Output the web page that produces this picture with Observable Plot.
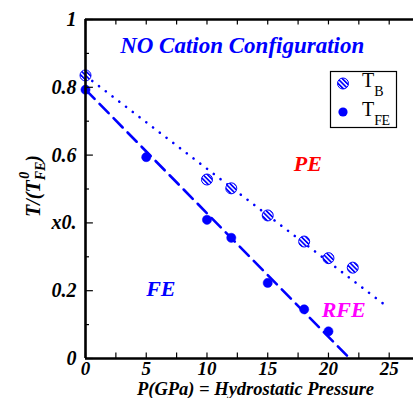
<!DOCTYPE html>
<html>
<head>
<meta charset="utf-8">
<script src="https://cdn.jsdelivr.net/npm/d3@7"></script>
<script src="https://cdn.jsdelivr.net/npm/@observablehq/plot@0.6"></script>
<style>
  html, body { margin: 0; padding: 0; background: #fff; }
  #chart { position: relative; width: 413px; height: 398px; overflow: hidden; }
</style>
</head>
<body>
<div id="chart"></div>
<script>
// ---- data ----
const pressureB = [0, 10, 12, 15, 18, 20, 22];
const tempB = [0.835, 0.528, 0.502, 0.422, 0.345, 0.296, 0.268];
const pressureFE = [0, 5, 10, 12, 15, 18, 20];
const tempFE = [0.793, 0.594, 0.409, 0.356, 0.223, 0.145, 0.080];
const fitBP = [0, 24.5];
const fitBT = [0.834, 0.162];
const fitFEP = [0, 21.75];
const fitFET = [0.793, 0];
const xMajor = [0, 5, 10, 15, 20, 25];
const xMinor = [2.5, 7.5, 12.5, 17.5, 22.5];
const xTickLabels = ["0", "5", "10", "15", "20", "25"];
const yMajor = [0, 0.2, 0.4, 0.6, 0.8, 1];
const yMinor = [0.1, 0.3, 0.5, 0.7, 0.9];
const yTickLabels = ["0", "0.2", "x0.", "0.6", "0.8", "1"];
const regionLabels = ["NO Cation Configuration", "PE", "FE", "RFE"];
const regionP = [12.9, 18.3, 6.2, 21.25];
const regionT = [0.923, 0.575, 0.206, 0.142];
const regionColors = ["#0000ff", "#ff0000", "#0000ff", "#ff00ff"];
const regionSizes = [23, 22, 22, 22];
const xLabel = "P(GPa) = Hydrostatic Pressure";

const BLUE = "#0000ff";
const SERIF = "'Liberation Serif', 'Times New Roman', 'DejaVu Serif', serif";

const dataB = pressureB.map((p, i) => ({p, t: tempB[i]}));
const dataFE = pressureFE.map((p, i) => ({p, t: tempFE[i]}));
const lineB = fitBP.map((p, i) => ({p, t: fitBT[i]}));
const lineFE = fitFEP.map((p, i) => ({p, t: fitFET[i]}));
const regions = regionLabels.map((s, i) => ({s, p: regionP[i], t: regionT[i], c: regionColors[i], f: regionSizes[i]}));

const textStyle = {fontWeight: "bold", fontStyle: "italic", fontFamily: SERIF};

const chart = Plot.plot({
  width: 413,
  height: 398,
  marginLeft: 85,
  marginRight: 0,
  marginTop: 19,
  marginBottom: 40,
  style: {background: "#fff", fontFamily: SERIF, overflow: "visible"},
  x: {domain: [0, 27], axis: null},
  y: {domain: [0, 1], axis: null},
  marks: [
    // fit lines
    Plot.line(lineB, {x: "p", y: "t", stroke: BLUE, strokeWidth: 2.6, strokeDasharray: "0.1 8.4", strokeLinecap: "round"}),
    Plot.line(lineFE, {x: "p", y: "t", stroke: BLUE, strokeWidth: 2.6, strokeDasharray: "13 7"}),
    // data
    Plot.dot(dataB, {x: "p", y: "t", r: 5.5, fill: "url(#hatch)", stroke: BLUE, strokeWidth: 1}),
    Plot.dot(dataFE, {x: "p", y: "t", r: 4.6, fill: BLUE, stroke: BLUE, strokeWidth: 0.5}),
    // ticks
    Plot.ruleX(xMajor.concat(xMinor), {y1: 0, y2: 0.016, stroke: "#000", strokeWidth: 1.2}),
    Plot.ruleX(xMajor.concat(xMinor), {y1: 1, y2: 0.984, stroke: "#000", strokeWidth: 1.2}),
    Plot.ruleY(yMajor, {x1: 0, x2: 0.65, stroke: "#000", strokeWidth: 1.2}),
    Plot.ruleY(yMinor, {x1: 0, x2: 0.33, stroke: "#000", strokeWidth: 1.2}),
    // axis lines
    Plot.ruleX([0], {stroke: "#000", strokeWidth: 2.6}),
    Plot.ruleY([0, 1], {stroke: "#000", strokeWidth: 2.6}),
    // tick labels
    Plot.text(yMajor, {x: 0, y: d => d, text: (d, i) => yTickLabels[i], textAnchor: "end", dx: -9, fontSize: 20, fill: "#000", ...textStyle}),
    Plot.text(xMajor, {x: d => d, y: 0, text: (d, i) => xTickLabels[i], dy: 10, fontSize: 19, fill: "#000", ...textStyle}),
    // region labels
    Plot.text(regions, {x: "p", y: "t", text: "s", fill: "c", fontSize: d => d.f, ...textStyle}),
    // x label
    Plot.text([xLabel], {frameAnchor: "bottom", lineAnchor: "middle", dx: 6, dy: 31, fontSize: 18.5, fill: "#000", ...textStyle})
  ]
});

const svg = d3.select(chart);
// hatch pattern
const defs = svg.insert("defs", ":first-child");
const pat = defs.append("pattern")
  .attr("id", "hatch")
  .attr("patternUnits", "userSpaceOnUse")
  .attr("width", 3.2).attr("height", 3.2)
  .attr("patternTransform", "rotate(-45)");
pat.append("rect").attr("width", 3.2).attr("height", 3.2).attr("fill", "#fff");
pat.append("rect").attr("width", 1.7).attr("height", 3.2).attr("fill", BLUE);

// y axis label with sub/superscripts
const yl = svg.append("text")
  .attr("transform", "translate(40,186) rotate(-90)")
  .attr("text-anchor", "middle")
  .attr("font-family", SERIF)
  .attr("font-size", 20)
  .attr("font-weight", "bold")
  .attr("font-style", "italic")
  .attr("fill", "#000");
yl.append("tspan").text("T/(T");
yl.append("tspan").attr("font-size", 14).attr("dy", 5).text("FE");
yl.append("tspan").attr("font-size", 14).attr("dx", -17).attr("dy", -16).text("0");
yl.append("tspan").attr("dx", 10).attr("dy", 11).text(")");

// legend
const lg = svg.append("g");
lg.append("rect").attr("x", 330.5).attr("y", 71.5).attr("width", 66).attr("height", 56)
  .attr("fill", "#fff").attr("stroke", "#000").attr("stroke-width", 1.2);
lg.append("circle").attr("cx", 343).attr("cy", 83.5).attr("r", 5.5).attr("fill", "url(#hatch)").attr("stroke", BLUE);
lg.append("circle").attr("cx", 343).attr("cy", 112).attr("r", 4.6).attr("fill", BLUE);
const t1 = lg.append("text").attr("x", 362).attr("y", 87).attr("text-anchor", "start").attr("font-family", SERIF).attr("font-size", 20).attr("fill", "#000");
t1.append("tspan").text("T");
t1.append("tspan").attr("font-size", 14).attr("dy", 9).text("B");
const t2 = lg.append("text").attr("x", 362).attr("y", 116).attr("text-anchor", "start").attr("font-family", SERIF).attr("font-size", 20).attr("fill", "#000");
t2.append("tspan").text("T");
t2.append("tspan").attr("font-size", 14).attr("dy", 9).attr("letter-spacing", -0.5).text("FE");

document.getElementById("chart").appendChild(chart);
</script>
</body>
</html>
